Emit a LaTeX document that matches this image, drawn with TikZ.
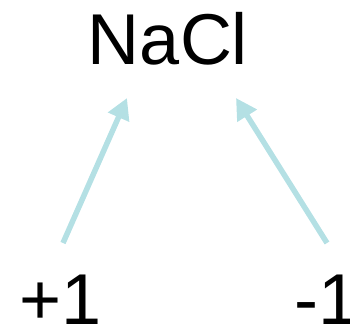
\documentclass[tikz,border=0pt]{standalone}
\usepackage{fontspec}
\setmainfont{Liberation Sans}
\usetikzlibrary{arrows.meta,positioning}
\definecolor{ionblue}{RGB}{180, 224, 228}
\tikzset{
 formula/.style={
 inner sep=0pt,
 font=\fontsize{72}{86}\selectfont
 },
 charge/.style={
 inner sep=0pt,
 text depth=0pt,
 font=\fontsize{72}{86}\selectfont
 },
 chargearrow/.style={-{Triangle[length=21pt,width=22pt]}, line width=5.5pt, draw=ionblue}
}
\begin{document}
\begin{tikzpicture}[x=1pt,y=-1pt]
 \useasboundingbox (0,0) rectangle (350,327);
 \node[formula, anchor=base] (nacl) at (168,64) {NaCl};
 \node[charge, anchor=base west] (plus) at (19.5,324) {+1};
 \node[charge, anchor=base west, inner xsep=-4pt] (minus) at (298,324) {-1};
 \coordinate (naTip) at (127,98);
 \coordinate (clTip) at (236,98);
 \coordinate (plusTail) at (63,243);
 \coordinate (minusTail) at (327,243);
 \draw[chargearrow] (plusTail) -- (naTip);
 \draw[chargearrow] (minusTail) -- (clTip);
\end{tikzpicture}
\end{document}
